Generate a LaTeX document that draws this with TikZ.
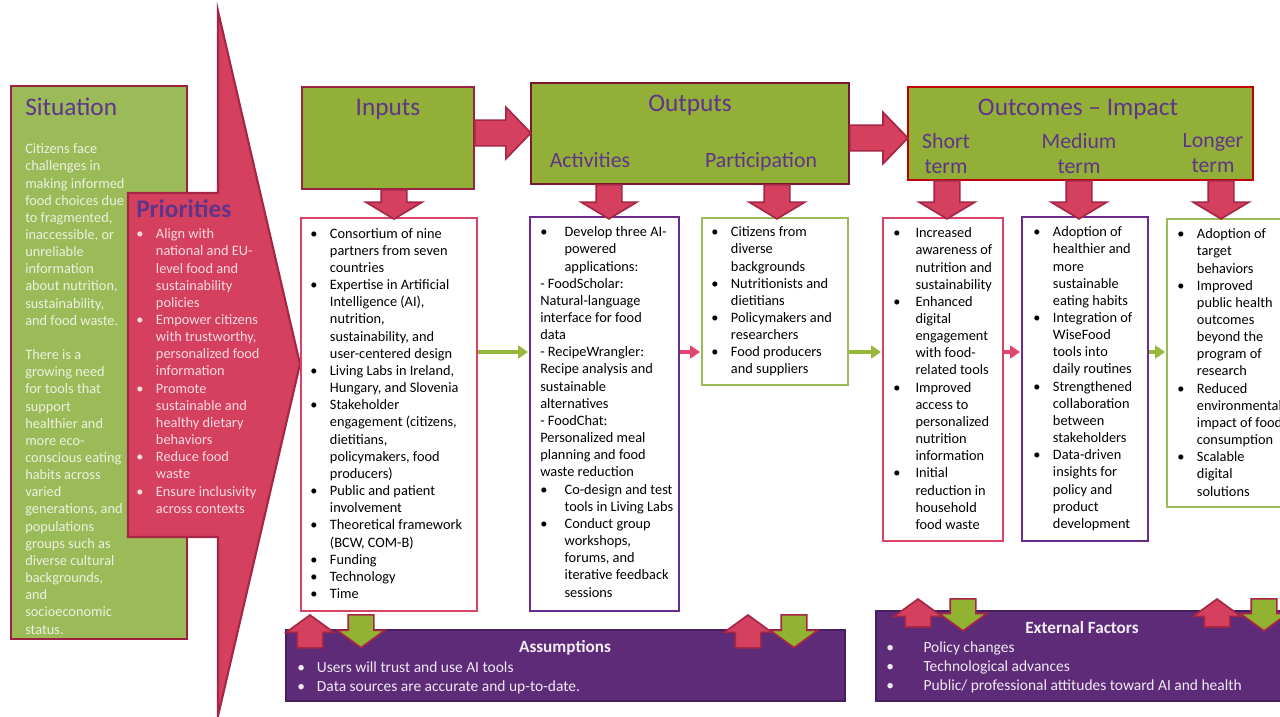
\documentclass[tikz,border=0pt]{standalone}
\usepackage{fontspec}
\setmainfont{Carlito}
\usetikzlibrary{arrows.meta}
\usetikzlibrary{positioning,fit,shapes.arrows,calc}

\definecolor{sitGreen}{RGB}{155,187,89}
\definecolor{hdrGreen}{RGB}{146,175,56}
\definecolor{arrRed}{RGB}{213,64,94}
\definecolor{arrEdge}{RGB}{165,38,70}
\definecolor{frameRed}{RGB}{155,33,64}
\definecolor{outEdge}{RGB}{122,24,48}
\definecolor{outcEdge}{RGB}{192,0,0}
\definecolor{pinkEdge}{RGB}{217,68,100}
\definecolor{purEdge}{RGB}{106,44,140}
\definecolor{grnEdge}{RGB}{155,187,89}
\definecolor{hdrPurple}{RGB}{96,52,138}
\definecolor{boxPurple}{RGB}{94,43,120}
\definecolor{boxPurpleEdge}{RGB}{72,30,95}
\definecolor{sitText}{RGB}{236,241,224}
\definecolor{priText}{RGB}{248,218,225}
\definecolor{lineGreen}{RGB}{150,185,60}
\definecolor{linePink}{RGB}{226,70,112}
\definecolor{downGreen}{RGB}{146,178,50}

\newcommand{\bitem}[1][14pt]{\makebox[#1][l]{\textbullet}}
\newcommand{\bcont}[1][14pt]{\hspace*{#1}}

\tikzset{sitbox/.style={draw=frameRed, fill=sitGreen, line width=1.6pt, inner sep=0pt},
		hdrbox/.style={draw=frameRed, fill=hdrGreen, line width=1.8pt, inner sep=0pt},
		listbox/.style={fill=white, line width=1.8pt, inner sep=0pt},
		factbox/.style={draw=boxPurpleEdge, fill=boxPurple, line width=1.5pt, inner sep=0pt},
		prishape/.style={draw=arrEdge, fill=arrRed, line width=1.5pt},
		hdrtext/.style={font=\fontsize{18}{21}\selectfont, text=hdrPurple, inner sep=0pt},
		subhdr/.style={font=\fontsize{15.5}{17.7}\selectfont, text=hdrPurple, inner sep=0pt, align=center},
		listtext/.style={font=\fontsize{10.2}{12.2}\selectfont, align=left, anchor=north west, inner sep=0pt},
		facttext/.style={font=\fontsize{11}{14.2}\selectfont, text=white!90!boxPurple, align=left, anchor=north west, inner sep=0pt},
		facttitle/.style={font=\bfseries\fontsize{12.2}{14}\selectfont, text=white!92!boxPurple, inner sep=0pt, anchor=base},
		blockR/.style={single arrow, anchor=tail, draw=arrEdge, fill=arrRed, line width=1.2pt, inner xsep=0pt, inner ysep=0.3cm,
		               minimum height=1.45cm, minimum width=1.25cm, single arrow head extend=0.325cm, single arrow tip angle=92},
		blockD/.style={single arrow, rotate=-90, anchor=tail, draw=arrEdge, fill=arrRed, line width=1.2pt, inner xsep=0pt, inner ysep=0.3cm,
		               minimum width=1.35cm, single arrow head extend=0.375cm, single arrow tip angle=118},
		smallUp/.style={single arrow, rotate=90, anchor=tip, draw=arrEdge, fill=arrRed, line width=1.2pt, inner xsep=0pt, inner ysep=0.3cm,
		               minimum height=0.82cm, minimum width=1.15cm, single arrow head extend=0.275cm, single arrow tip angle=108},
		smallDown/.style={smallUp, rotate=180, anchor=tail, fill=downGreen},
		thinG/.style={-{Triangle[length=7pt,width=9pt]}, line width=2.2pt, draw=lineGreen, shorten >=0.5pt},
		thinR/.style={thinG, draw=linePink}}

\begin{document}
\begin{tikzpicture}[x=0.025cm, y=-0.025cm]
		\clip (0,0) rectangle (1280,716);
		\fill[white] (0,0) rectangle (1280,716);

		%situation and priorities
		\node[sitbox, fit={(11,86) (187,639)}] (sitBox) {};
		\draw[prishape] (128,193) -- (218,193) -- (218,11) -- (300,364) -- (218,716) -- (218,537) -- (128,537) -- cycle;
		\node at (25,115) [hdrtext, anchor=base west] (sitTitle) {Situation};
		\node at (25,143.5) [listtext, text=sitText] (sitText) {Citizens face\\ challenges in\\ making informed\\ food choices due\\ to fragmented,\\ inaccessible, or\\ unreliable\\ information\\ about nutrition,\\ sustainability,\\ and food waste.\\[12.2pt] There is a\\ growing need\\ for tools that\\ support\\ healthier and\\ more eco-\\ conscious eating\\ habits across\\ varied\\ generations, and\\ populations\\ groups such as\\ diverse cultural\\ backgrounds,\\ and\\ socioeconomic\\ status.};
		\node at (136,217) [hdrtext, font=\bfseries\fontsize{18}{21}\selectfont, anchor=base west] (priTitle) {Priorities};
		\node at (136,228.5) [listtext, text=priText] (priText) {\bitem Align with\\ \bcont national and EU-\\ \bcont level food and\\ \bcont sustainability\\ \bcont policies\\ \bitem Empower citizens\\ \bcont with trustworthy,\\ \bcont personalized food\\ \bcont information\\ \bitem Promote\\ \bcont sustainable and\\ \bcont healthy dietary\\ \bcont behaviors\\ \bitem Reduce food\\ \bcont waste\\ \bitem Ensure inclusivity\\ \bcont across contexts};

		%headers
		\node[hdrbox, fit={(302,87) (474,189)}] (inHead) {};
		\node[hdrbox, draw=outEdge, fit={(531,83) (849,184)}] (outHead) {};
		\node[hdrbox, draw=outcEdge, fit={(908,87) (1253,180)}] (outcHead) {};
		\node at (388,115) [hdrtext, anchor=base] (inTitle) {Inputs};
		\node at (690,111) [hdrtext, anchor=base] (outTitle) {Outputs};
		\node at (590,167) [subhdr, anchor=base] (actTitle) {Activities};
		\node at (761,167) [subhdr, anchor=base] (partTitle) {Participation};
		\node at (1078,115) [hdrtext, anchor=base] (outcTitle) {Outcomes – Impact};
		\node at (946,133) [subhdr, anchor=north] (shortTitle) {Short\\term};
		\node at (1079,133) [subhdr, anchor=north] (medTitle) {Medium\\term};
		\node at (1213,133) [subhdr, anchor=north] (longTitle) {Longer\\term};
		\node at (474,133) [blockR, minimum height=1.4cm] (arrIn) {};
		\node at (849,138) [blockR] (arrOut) {};

		%lists
		\node[listbox, draw=pinkEdge, fit={(301,218) (477,611)}] (inBox) {};
		\node[listbox, draw=purEdge, fit={(530,217) (679,611)}] (actBox) {};
		\node[listbox, draw=grnEdge, fit={(702,218) (848,385)}] (partBox) {};
		\node[listbox, draw=pinkEdge, fit={(883,218) (1003,541)}] (shortBox) {};
		\node[listbox, draw=purEdge, fit={(1022,217) (1148,541)}] (medBox) {};
		\node[listbox, draw=grnEdge, fit={(1167,219) (1300,507)}] (longBox) {};

		\node at (394,189) [blockD, minimum height=0.73cm] (dIn) {};
		\node at (609,184) [blockD, minimum height=0.85cm] (dAct) {};
		\node at (777,184) [blockD, minimum height=0.85cm] (dPart) {};
		\node at (947,180) [blockD, minimum height=0.95cm] (dShort) {};
		\node at (1079,180) [blockD, minimum height=0.95cm] (dMed) {};
		\node at (1221,180) [blockD, minimum height=0.95cm] (dLong) {};

		\node at (310,228) [listtext] (inText) {\bitem Consortium of nine\\ \bcont partners from seven\\ \bcont countries\\ \bitem Expertise in Artificial\\ \bcont Intelligence (AI),\\ \bcont nutrition,\\ \bcont sustainability, and\\ \bcont user-centered design\\ \bitem Living Labs in Ireland,\\ \bcont Hungary, and Slovenia\\ \bitem Stakeholder\\ \bcont engagement (citizens,\\ \bcont dietitians,\\ \bcont policymakers, food\\ \bcont producers)\\ \bitem Public and patient\\ \bcont involvement\\ \bitem Theoretical framework\\ \bcont (BCW, COM-B)\\ \bitem Funding\\ \bitem Technology\\ \bitem Time};
		\node at (540,226.5) [listtext] (actText) {\bitem[15pt] Develop three AI-\\ \bcont[15pt] powered\\ \bcont[15pt] applications:\\ - FoodScholar:\\ Natural-language\\ interface for food\\ data\\ - RecipeWrangler:\\ Recipe analysis and\\ sustainable\\ alternatives\\ - FoodChat:\\ Personalized meal\\ planning and food\\ waste reduction\\ \bitem[15pt] Co-design and test\\ \bcont[15pt] tools in Living Labs\\ \bitem[15pt] Conduct group\\ \bcont[15pt] workshops,\\ \bcont[15pt] forums, and\\ \bcont[15pt] iterative feedback\\ \bcont[15pt] sessions};
		\node at (711,226.5) [listtext] (partText) {\bitem Citizens from\\ \bcont diverse\\ \bcont backgrounds\\ \bitem Nutritionists and\\ \bcont dietitians\\ \bitem Policymakers and\\ \bcont researchers\\ \bitem Food producers\\ \bcont and suppliers};
		\node at (893,227.5) [listtext] (shortText) {\bitem[13.5pt] Increased\\ \bcont[13.5pt] awareness of\\ \bcont[13.5pt] nutrition and\\ \bcont[13.5pt] sustainability\\ \bitem[13.5pt] Enhanced\\ \bcont[13.5pt] digital\\ \bcont[13.5pt] engagement\\ \bcont[13.5pt] with food-\\ \bcont[13.5pt] related tools\\ \bitem[13.5pt] Improved\\ \bcont[13.5pt] access to\\ \bcont[13.5pt] personalized\\ \bcont[13.5pt] nutrition\\ \bcont[13.5pt] information\\ \bitem[13.5pt] Initial\\ \bcont[13.5pt] reduction in\\ \bcont[13.5pt] household\\ \bcont[13.5pt] food waste};
		\node at (1033,226.5) [listtext] (medText) {\bitem Adoption of\\ \bcont healthier and\\ \bcont more\\ \bcont sustainable\\ \bcont eating habits\\ \bitem Integration of\\ \bcont WiseFood\\ \bcont tools into\\ \bcont daily routines\\ \bitem Strengthened\\ \bcont collaboration\\ \bcont between\\ \bcont stakeholders\\ \bitem Data-driven\\ \bcont insights for\\ \bcont policy and\\ \bcont product\\ \bcont development};
		\node at (1177,228.5) [listtext] (longText) {\bitem Adoption of\\ \bcont target\\ \bcont behaviors\\ \bitem Improved\\ \bcont public health\\ \bcont outcomes\\ \bcont beyond the\\ \bcont program of\\ \bcont research\\ \bitem Reduced\\ \bcont environmental\\ \bcont impact of food\\ \bcont consumption\\ \bitem Scalable\\ \bcont digital\\ \bcont solutions};

		\coordinate (midline) at (0,352);
		\draw[thinG] (inBox.east |- midline) -- (actBox.west |- midline);
		\draw[thinR] (actBox.east |- midline) -- (partBox.west |- midline);
		\draw[thinG] (partBox.east |- midline) -- (shortBox.west |- midline);
		\draw[thinR] (shortBox.east |- midline) -- (medBox.west |- midline);
		\draw[thinG] (medBox.east |- midline) -- (longBox.west |- midline);

		%assumptions and external factors
		\node[factbox, fit={(286,630) (845,701)}] (asmBox) {};
		\node[factbox, fit={(876,611) (1300,701)}] (extBox) {};
		\node at (565,652) [facttitle] (asmTitle) {Assumptions};
		\node at (297,661) [facttext] (asmText) {\bitem Users will trust and use AI tools\\ \bitem Data sources are accurate and up-to-date.};
		\node at (1082,633) [facttitle] (extTitle) {External Factors};
		\node at (886,641.5) [facttext, font=\fontsize{11}{13.5}\selectfont] (extText) {\bitem[24pt] Policy changes\\ \bitem[24pt] Technological advances\\ \bitem[24pt] Public/ professional attitudes toward AI and health};
		\node at (310,614) [smallUp] (upA1) {};
		\node at (361,614) [smallDown] (dnA1) {};
		\node at (748,614) [smallUp] (upA2) {};
		\node at (794,614) [smallDown] (dnA2) {};
		\node at (918,598) [smallUp, minimum height=0.7cm] (upE1) {};
		\node at (963,598) [smallDown, minimum height=0.8cm] (dnE1) {};
		\node at (1217,598) [smallUp, minimum height=0.7cm] (upE2) {};
		\node at (1264,598) [smallDown, minimum height=0.8cm] (dnE2) {};
\end{tikzpicture}
\end{document}
